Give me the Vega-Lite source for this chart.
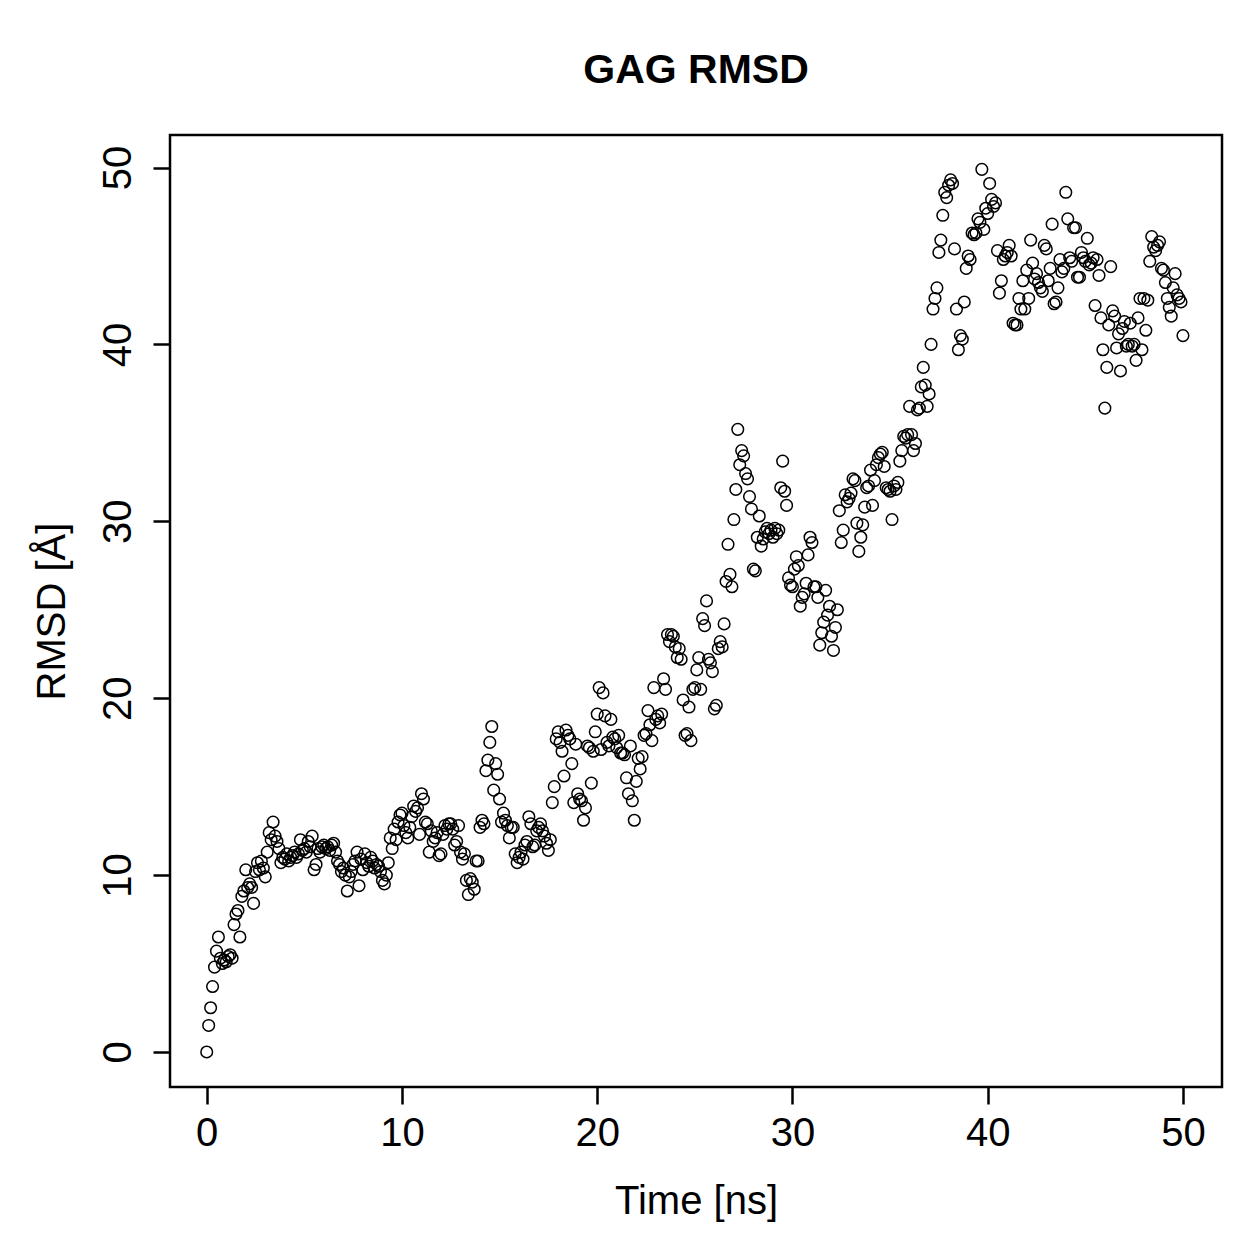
{
  "$schema": "https://vega.github.io/schema/vega-lite/v6.json",
  "width": 1052,
  "height": 952,
  "autosize": {"type": "none"},
  "padding": {"left": 170, "top": 135, "right": 37, "bottom": 172},
  "background": "white",
  "config": {
    "view": {"stroke": "black", "strokeWidth": 2.5},
    "font": "Liberation Sans"
  },
  "title": {
    "text": "GAG RMSD",
    "font": "Liberation Sans",
    "fontSize": 41,
    "fontWeight": "bold",
    "color": "black",
    "anchor": "middle",
    "baseline": "alphabetic",
    "offset": 11
  },
  "data": {
    "values": [
      {"t":0.0,"r":0},{"t":0.1,"r":1.5},{"t":0.2,"r":2.5},{"t":0.3,"r":3.7},{"t":0.4,"r":4.8},{"t":0.5,"r":5.7},{"t":0.6,"r":6.5},{"t":0.7,"r":5.3},{"t":0.8,"r":5.0},{"t":0.9,"r":5.2},
      {"t":1.0,"r":5.1},{"t":1.1,"r":5.4},{"t":1.2,"r":5.5},{"t":1.3,"r":5.3},{"t":1.4,"r":7.2},{"t":1.5,"r":7.8},{"t":1.6,"r":8.0},{"t":1.7,"r":6.5},{"t":1.8,"r":8.8},{"t":1.9,"r":9.1},
      {"t":2.0,"r":10.3},{"t":2.1,"r":9.3},{"t":2.2,"r":9.5},{"t":2.3,"r":9.3},{"t":2.4,"r":8.4},{"t":2.5,"r":10.2},{"t":2.6,"r":10.7},{"t":2.7,"r":10.3},{"t":2.8,"r":10.8},{"t":2.9,"r":10.4},
      {"t":3.0,"r":9.9},{"t":3.1,"r":11.3},{"t":3.2,"r":12.4},{"t":3.3,"r":12.0},{"t":3.4,"r":13.0},{"t":3.5,"r":12.2},{"t":3.6,"r":11.9},{"t":3.7,"r":11.5},{"t":3.8,"r":10.7},{"t":3.9,"r":11.0},
      {"t":4.0,"r":10.9},{"t":4.1,"r":11.2},{"t":4.2,"r":10.8},{"t":4.3,"r":11.0},{"t":4.4,"r":11.1},{"t":4.5,"r":11.3},{"t":4.6,"r":11.0},{"t":4.7,"r":11.2},{"t":4.8,"r":12.0},{"t":4.9,"r":11.4},
      {"t":5.0,"r":11.5},{"t":5.1,"r":11.3},{"t":5.2,"r":11.9},{"t":5.3,"r":11.6},{"t":5.4,"r":12.2},{"t":5.5,"r":10.3},{"t":5.6,"r":10.6},{"t":5.7,"r":11.5},{"t":5.8,"r":11.3},{"t":5.9,"r":11.6},
      {"t":6.0,"r":11.7},{"t":6.1,"r":11.5},{"t":6.2,"r":11.6},{"t":6.3,"r":11.4},{"t":6.4,"r":11.7},{"t":6.5,"r":11.8},{"t":6.6,"r":11.3},{"t":6.7,"r":10.8},{"t":6.8,"r":10.6},{"t":6.9,"r":10.2},
      {"t":7.0,"r":10.4},{"t":7.1,"r":10.0},{"t":7.2,"r":9.1},{"t":7.3,"r":9.9},{"t":7.4,"r":10.2},{"t":7.5,"r":10.6},{"t":7.6,"r":10.8},{"t":7.7,"r":11.3},{"t":7.8,"r":9.4},{"t":7.9,"r":10.9},
      {"t":8.0,"r":10.3},{"t":8.1,"r":11.2},{"t":8.2,"r":10.7},{"t":8.3,"r":10.5},{"t":8.4,"r":11.0},{"t":8.5,"r":10.8},{"t":8.6,"r":10.4},{"t":8.7,"r":10.6},{"t":8.8,"r":10.5},{"t":8.9,"r":10.2},
      {"t":9.0,"r":9.7},{"t":9.1,"r":9.5},{"t":9.2,"r":10.0},{"t":9.3,"r":10.7},{"t":9.4,"r":12.1},{"t":9.5,"r":11.5},{"t":9.6,"r":12.6},{"t":9.7,"r":12.0},{"t":9.8,"r":13.0},{"t":9.9,"r":13.4},
      {"t":10.0,"r":13.5},{"t":10.1,"r":12.8},{"t":10.2,"r":12.4},{"t":10.3,"r":12.1},{"t":10.4,"r":12.7},{"t":10.5,"r":13.3},{"t":10.6,"r":13.9},{"t":10.7,"r":13.6},{"t":10.8,"r":13.8},{"t":10.9,"r":12.3},
      {"t":11.0,"r":14.6},{"t":11.1,"r":14.3},{"t":11.2,"r":13.0},{"t":11.3,"r":12.9},{"t":11.4,"r":11.3},{"t":11.5,"r":12.5},{"t":11.6,"r":11.9},{"t":11.7,"r":12.1},{"t":11.8,"r":12.4},{"t":11.9,"r":11.1},
      {"t":12.0,"r":11.2},{"t":12.1,"r":12.3},{"t":12.2,"r":12.8},{"t":12.3,"r":12.6},{"t":12.4,"r":12.9},{"t":12.5,"r":12.9},{"t":12.6,"r":12.6},{"t":12.7,"r":11.7},{"t":12.8,"r":11.9},{"t":12.9,"r":12.8},
      {"t":13.0,"r":11.3},{"t":13.1,"r":10.9},{"t":13.2,"r":11.2},{"t":13.3,"r":9.7},{"t":13.4,"r":8.9},{"t":13.5,"r":9.8},{"t":13.6,"r":9.6},{"t":13.7,"r":9.2},{"t":13.8,"r":10.8},{"t":13.9,"r":10.8},
      {"t":14.0,"r":12.7},{"t":14.1,"r":13.1},{"t":14.2,"r":12.9},{"t":14.3,"r":15.9},{"t":14.4,"r":16.5},{"t":14.5,"r":17.5},{"t":14.6,"r":18.4},{"t":14.7,"r":14.8},{"t":14.8,"r":16.3},{"t":14.9,"r":15.7},
      {"t":15.0,"r":14.3},{"t":15.1,"r":13.0},{"t":15.2,"r":13.5},{"t":15.3,"r":13.1},{"t":15.4,"r":12.8},{"t":15.5,"r":12.1},{"t":15.6,"r":12.7},{"t":15.7,"r":12.7},{"t":15.8,"r":11.2},{"t":15.9,"r":10.7},
      {"t":16.0,"r":11.0},{"t":16.1,"r":11.3},{"t":16.2,"r":10.9},{"t":16.3,"r":11.7},{"t":16.4,"r":11.9},{"t":16.5,"r":13.3},{"t":16.6,"r":12.9},{"t":16.7,"r":11.6},{"t":16.8,"r":11.7},{"t":16.9,"r":12.5},
      {"t":17.0,"r":12.7},{"t":17.1,"r":12.9},{"t":17.2,"r":12.5},{"t":17.3,"r":12.2},{"t":17.4,"r":11.8},{"t":17.5,"r":11.4},{"t":17.6,"r":12.0},{"t":17.7,"r":14.1},{"t":17.8,"r":15.0},{"t":17.9,"r":17.7},
      {"t":18.0,"r":18.1},{"t":18.1,"r":17.5},{"t":18.2,"r":17.0},{"t":18.3,"r":15.6},{"t":18.4,"r":18.2},{"t":18.5,"r":17.9},{"t":18.6,"r":17.7},{"t":18.7,"r":16.3},{"t":18.8,"r":14.1},{"t":18.9,"r":17.4},
      {"t":19.0,"r":14.6},{"t":19.1,"r":14.3},{"t":19.2,"r":14.2},{"t":19.3,"r":13.1},{"t":19.4,"r":13.8},{"t":19.5,"r":17.3},{"t":19.6,"r":17.2},{"t":19.7,"r":15.2},{"t":19.8,"r":17.0},{"t":19.9,"r":18.1},
      {"t":20.0,"r":19.1},{"t":20.1,"r":20.6},{"t":20.2,"r":17.1},{"t":20.3,"r":20.3},{"t":20.4,"r":19.0},{"t":20.5,"r":17.5},{"t":20.6,"r":17.3},{"t":20.7,"r":18.8},{"t":20.8,"r":17.8},{"t":20.9,"r":17.7},
      {"t":21.0,"r":17.2},{"t":21.1,"r":17.9},{"t":21.2,"r":16.9},{"t":21.3,"r":16.9},{"t":21.4,"r":16.8},{"t":21.5,"r":15.5},{"t":21.6,"r":14.6},{"t":21.7,"r":17.3},{"t":21.8,"r":14.2},{"t":21.9,"r":13.1},
      {"t":22.0,"r":15.3},{"t":22.1,"r":16.6},{"t":22.2,"r":16.0},{"t":22.3,"r":16.7},{"t":22.4,"r":17.9},{"t":22.5,"r":18.0},{"t":22.6,"r":19.3},{"t":22.7,"r":18.5},{"t":22.8,"r":17.6},{"t":22.9,"r":20.6},
      {"t":23.0,"r":18.8},{"t":23.1,"r":19.0},{"t":23.2,"r":18.6},{"t":23.3,"r":19.1},{"t":23.4,"r":21.1},{"t":23.5,"r":20.5},{"t":23.6,"r":23.6},{"t":23.7,"r":23.2},{"t":23.8,"r":23.6},{"t":23.9,"r":23.5},
      {"t":24.0,"r":22.9},{"t":24.1,"r":22.3},{"t":24.2,"r":22.8},{"t":24.3,"r":22.2},{"t":24.4,"r":19.9},{"t":24.5,"r":17.9},{"t":24.6,"r":18.0},{"t":24.7,"r":19.5},{"t":24.8,"r":17.6},{"t":24.9,"r":20.5},
      {"t":25.0,"r":20.6},{"t":25.1,"r":21.6},{"t":25.2,"r":22.3},{"t":25.3,"r":20.5},{"t":25.4,"r":24.5},{"t":25.5,"r":24.1},{"t":25.6,"r":25.5},{"t":25.7,"r":22.2},{"t":25.8,"r":22.0},{"t":25.9,"r":21.5},
      {"t":26.0,"r":19.4},{"t":26.1,"r":19.6},{"t":26.2,"r":22.8},{"t":26.3,"r":23.2},{"t":26.4,"r":22.9},{"t":26.5,"r":24.2},{"t":26.6,"r":26.6},{"t":26.7,"r":28.7},{"t":26.8,"r":27.0},{"t":26.9,"r":26.3},
      {"t":27.0,"r":30.1},{"t":27.1,"r":31.8},{"t":27.2,"r":35.2},{"t":27.3,"r":33.2},{"t":27.4,"r":34.0},{"t":27.5,"r":33.7},{"t":27.6,"r":32.7},{"t":27.7,"r":32.4},{"t":27.8,"r":31.4},{"t":27.9,"r":30.7},
      {"t":28.0,"r":27.3},{"t":28.1,"r":27.2},{"t":28.2,"r":29.1},{"t":28.3,"r":30.3},{"t":28.4,"r":28.6},{"t":28.5,"r":29.0},{"t":28.6,"r":29.4},{"t":28.7,"r":29.6},{"t":28.8,"r":29.3},{"t":28.9,"r":29.5},
      {"t":29.0,"r":29.1},{"t":29.1,"r":29.6},{"t":29.2,"r":29.3},{"t":29.3,"r":29.5},{"t":29.4,"r":31.9},{"t":29.5,"r":33.4},{"t":29.6,"r":31.7},{"t":29.7,"r":30.9},{"t":29.8,"r":26.8},{"t":29.9,"r":26.4},
      {"t":30.0,"r":26.3},{"t":30.1,"r":27.3},{"t":30.2,"r":28.0},{"t":30.3,"r":27.5},{"t":30.4,"r":25.2},{"t":30.5,"r":25.7},{"t":30.6,"r":25.9},{"t":30.7,"r":26.5},{"t":30.8,"r":28.1},{"t":30.9,"r":29.1},
      {"t":31.0,"r":28.8},{"t":31.1,"r":26.3},{"t":31.2,"r":26.3},{"t":31.3,"r":25.7},{"t":31.4,"r":23.0},{"t":31.5,"r":23.7},{"t":31.6,"r":24.3},{"t":31.7,"r":26.1},{"t":31.8,"r":24.7},{"t":31.9,"r":25.2},
      {"t":32.0,"r":23.5},{"t":32.1,"r":22.7},{"t":32.2,"r":24.0},{"t":32.3,"r":25.0},{"t":32.4,"r":30.6},{"t":32.5,"r":28.8},{"t":32.6,"r":29.5},{"t":32.7,"r":31.5},{"t":32.8,"r":31.1},{"t":32.9,"r":31.3},
      {"t":33.0,"r":31.6},{"t":33.1,"r":32.4},{"t":33.2,"r":32.3},{"t":33.3,"r":29.9},{"t":33.4,"r":28.3},{"t":33.5,"r":29.1},{"t":33.6,"r":29.8},{"t":33.7,"r":30.8},{"t":33.8,"r":31.9},{"t":33.9,"r":32.0},
      {"t":34.0,"r":32.9},{"t":34.1,"r":30.9},{"t":34.2,"r":32.3},{"t":34.3,"r":33.2},{"t":34.4,"r":33.6},{"t":34.5,"r":33.8},{"t":34.6,"r":33.9},{"t":34.7,"r":33.1},{"t":34.8,"r":31.9},{"t":34.9,"r":31.8},
      {"t":35.0,"r":31.7},{"t":35.1,"r":30.1},{"t":35.2,"r":32.0},{"t":35.3,"r":31.8},{"t":35.4,"r":32.2},{"t":35.5,"r":33.4},{"t":35.6,"r":34.0},{"t":35.7,"r":34.8},{"t":35.8,"r":34.7},{"t":35.9,"r":34.9},
      {"t":36.0,"r":36.5},{"t":36.1,"r":34.9},{"t":36.2,"r":34.0},{"t":36.3,"r":34.4},{"t":36.4,"r":36.3},{"t":36.5,"r":36.4},{"t":36.6,"r":37.6},{"t":36.7,"r":38.7},{"t":36.8,"r":37.7},{"t":36.9,"r":36.5},
      {"t":37.0,"r":37.2},{"t":37.1,"r":40.0},{"t":37.2,"r":42.0},{"t":37.3,"r":42.6},{"t":37.4,"r":43.2},{"t":37.5,"r":45.2},{"t":37.6,"r":45.9},{"t":37.7,"r":47.3},{"t":37.8,"r":48.6},{"t":37.9,"r":48.3},
      {"t":38.0,"r":49.0},{"t":38.1,"r":49.3},{"t":38.2,"r":49.1},{"t":38.3,"r":45.4},{"t":38.4,"r":42.0},{"t":38.5,"r":39.7},{"t":38.6,"r":40.5},{"t":38.7,"r":40.3},{"t":38.8,"r":42.4},{"t":38.9,"r":44.3},
      {"t":39.0,"r":45.0},{"t":39.1,"r":44.8},{"t":39.2,"r":46.3},{"t":39.3,"r":46.2},{"t":39.4,"r":46.3},{"t":39.5,"r":47.1},{"t":39.6,"r":46.9},{"t":39.7,"r":49.9},{"t":39.8,"r":46.5},{"t":39.9,"r":47.7},
      {"t":40.0,"r":47.4},{"t":40.1,"r":49.1},{"t":40.2,"r":48.2},{"t":40.3,"r":47.8},{"t":40.4,"r":48.0},{"t":40.5,"r":45.3},{"t":40.6,"r":42.9},{"t":40.7,"r":43.6},{"t":40.8,"r":44.8},{"t":40.9,"r":45.0},
      {"t":41.0,"r":45.2},{"t":41.1,"r":45.6},{"t":41.2,"r":45.0},{"t":41.3,"r":41.2},{"t":41.4,"r":41.1},{"t":41.5,"r":41.1},{"t":41.6,"r":42.6},{"t":41.7,"r":42.0},{"t":41.8,"r":43.6},{"t":41.9,"r":42.0},
      {"t":42.0,"r":44.2},{"t":42.1,"r":42.6},{"t":42.2,"r":45.9},{"t":42.3,"r":44.6},{"t":42.4,"r":43.7},{"t":42.5,"r":44.0},{"t":42.6,"r":43.5},{"t":42.7,"r":43.2},{"t":42.8,"r":43.0},{"t":42.9,"r":45.6},
      {"t":43.0,"r":45.4},{"t":43.1,"r":43.6},{"t":43.2,"r":44.3},{"t":43.3,"r":46.8},{"t":43.4,"r":42.3},{"t":43.5,"r":42.4},{"t":43.6,"r":43.2},{"t":43.7,"r":44.8},{"t":43.8,"r":44.1},{"t":43.9,"r":44.3},
      {"t":44.0,"r":48.6},{"t":44.1,"r":47.1},{"t":44.2,"r":44.9},{"t":44.3,"r":44.7},{"t":44.4,"r":46.6},{"t":44.5,"r":46.6},{"t":44.6,"r":43.8},{"t":44.7,"r":43.8},{"t":44.8,"r":45.2},{"t":44.9,"r":44.9},
      {"t":45.0,"r":44.7},{"t":45.1,"r":46.0},{"t":45.2,"r":44.5},{"t":45.3,"r":44.6},{"t":45.4,"r":44.9},{"t":45.5,"r":42.2},{"t":45.6,"r":44.8},{"t":45.7,"r":43.9},{"t":45.8,"r":41.5},{"t":45.9,"r":39.7},
      {"t":46.0,"r":36.4},{"t":46.1,"r":38.7},{"t":46.2,"r":41.1},{"t":46.3,"r":44.4},{"t":46.4,"r":41.9},{"t":46.5,"r":41.6},{"t":46.6,"r":39.8},{"t":46.7,"r":40.6},{"t":46.8,"r":38.5},{"t":46.9,"r":40.9},
      {"t":47.0,"r":41.3},{"t":47.1,"r":39.9},{"t":47.2,"r":40.0},{"t":47.3,"r":41.2},{"t":47.4,"r":39.9},{"t":47.5,"r":40.0},{"t":47.6,"r":39.1},{"t":47.7,"r":41.5},{"t":47.8,"r":42.6},{"t":47.9,"r":39.7},
      {"t":48.0,"r":42.6},{"t":48.1,"r":40.8},{"t":48.2,"r":42.5},{"t":48.3,"r":44.7},{"t":48.4,"r":46.1},{"t":48.5,"r":45.5},{"t":48.6,"r":45.3},{"t":48.7,"r":45.6},{"t":48.8,"r":45.8},{"t":48.9,"r":44.3},
      {"t":49.0,"r":44.2},{"t":49.1,"r":43.5},{"t":49.2,"r":42.6},{"t":49.3,"r":42.1},{"t":49.4,"r":41.6},{"t":49.5,"r":43.2},{"t":49.6,"r":44.0},{"t":49.7,"r":42.8},{"t":49.8,"r":42.6},{"t":49.9,"r":42.4},
      {"t":50.0,"r":40.5}
    ]
  },
  "mark": {"type": "point", "filled": false, "color": "black", "strokeWidth": 1.5, "size": 135, "opacity": 1},
  "encoding": {
    "x": {
      "field": "t",
      "type": "quantitative",
      "scale": {"domain": [-1.88, 52.0], "nice": false, "zero": false},
      "axis": {
        "title": "Time [ns]",
        "values": [0, 10, 20, 30, 40, 50],
        "grid": false,
        "domain": false,
        "tickColor": "black",
        "tickWidth": 2.5,
        "tickSize": 17,
        "labelFont": "Liberation Sans",
        "labelFontSize": 40,
        "labelColor": "black",
        "labelPadding": 9,
        "labelBaseline": "top",
        "titleFont": "Liberation Sans",
        "titleFontSize": 40,
        "titleFontWeight": "normal",
        "titleColor": "black",
        "titleBaseline": "alphabetic",
        "titleY": 126,
        "titleX": 526
      }
    },
    "y": {
      "field": "r",
      "type": "quantitative",
      "scale": {"domain": [-1.98, 51.84], "nice": false, "zero": false},
      "axis": {
        "title": "RMSD [Å]",
        "values": [0, 10, 20, 30, 40, 50],
        "grid": false,
        "domain": false,
        "tickColor": "black",
        "tickWidth": 2.5,
        "tickSize": 17,
        "labelFont": "Liberation Sans",
        "labelFontSize": 40,
        "labelColor": "black",
        "labelAngle": -90,
        "labelAlign": "center",
        "labelBaseline": "alphabetic",
        "labelPadding": 23,
        "titleFont": "Liberation Sans",
        "titleFontSize": 40,
        "titleFontWeight": "normal",
        "titleColor": "black",
        "titleAngle": -90,
        "titleAlign": "center",
        "titleBaseline": "alphabetic",
        "titleX": -106,
        "titleY": 476
      }
    }
  }
}
